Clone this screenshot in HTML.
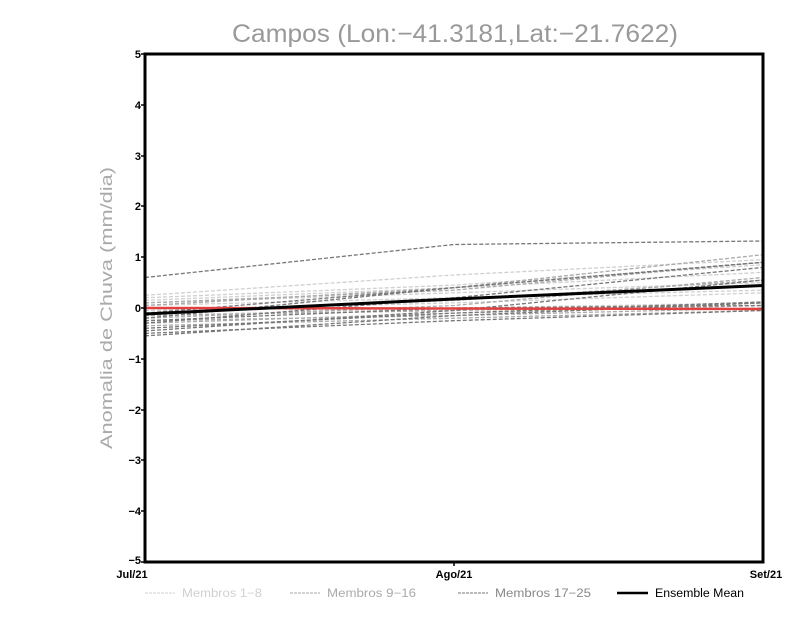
<!DOCTYPE html>
<html><head><meta charset="utf-8"><style>
html,body{margin:0;padding:0;background:#fff;}
svg{display:block;}
</style></head><body>
<svg width="800" height="618" xmlns="http://www.w3.org/2000/svg" font-family="Liberation Sans, sans-serif">
<rect width="800" height="618" fill="#fff"/>
<text x="232" y="42" font-size="25" fill="#999" textLength="446" lengthAdjust="spacingAndGlyphs">Campos (Lon:−41.3181,Lat:−21.7622)</text>
<text transform="translate(112,308) rotate(-90)" text-anchor="middle" font-size="17" fill="#aaa" textLength="282" lengthAdjust="spacingAndGlyphs">Anomalia de Chuva (mm/dia)</text>
<g id="lines" fill="none" stroke-dasharray="4,2" stroke-width="1.3">
<g stroke="#d0d0d0">
<polyline points="145,295.3 454,275 763,259.7"/>
<polyline points="145,300.4 454,287.7 763,272.4"/>
<polyline points="145,302.9 454,292.8 763,282.6"/>
<polyline points="145,305.5 454,297.8 763,290.2"/>
<polyline points="145,310.5 454,302.9 763,292.8"/>
<polyline points="145,315.6 454,308 763,302.9"/>
<polyline points="145,297.8 454,285.1 763,264.8"/>
<polyline points="145,308 454,310.5 763,305.5"/>
</g>
<g stroke="#aaaaaa">
<polyline points="145,318.2 454,305.5 763,277.5"/>
<polyline points="145,323.2 454,313.1 763,305.5"/>
<polyline points="145,302.9 454,290.2 763,262.3"/>
<polyline points="145,320.7 454,315.6 763,308"/>
<polyline points="145,313.1 454,300.4 763,280.1"/>
<polyline points="145,325.8 454,318.2 763,310.5"/>
<polyline points="145,305.5 454,287.7 763,254.7"/>
<polyline points="145,315.6 454,310.5 763,302.9"/>
</g>
<g stroke="#777777">
<polyline points="145,277.5 454,244.5 763,241"/>
<polyline points="145,333.4 454,320.7 763,310.5"/>
<polyline points="145,335.9 454,315.6 763,302.9"/>
<polyline points="145,323.2 454,297.8 763,267.4"/>
<polyline points="145,318.2 454,287.7 763,262.3"/>
<polyline points="145,328.3 454,313.1 763,301.9"/>
<polyline points="145,313.1 454,287.7 763,262.3"/>
<polyline points="145,330.9 454,310.5 763,280.1"/>
<polyline points="145,320.7 454,308 763,305.5"/>
</g>
</g>
<line x1="145" y1="308" x2="763" y2="309" stroke="#e04040" stroke-width="2.5"/>
<polyline points="145,314 454,299 763,285.5" fill="none" stroke="#000" stroke-width="3"/>
<rect x="145" y="54" width="618" height="508" fill="none" stroke="#000" stroke-width="3"/>
<g stroke="#000" stroke-width="1.5">
<line x1="141" y1="54" x2="145" y2="54"/><line x1="141" y1="105" x2="145" y2="105"/><line x1="141" y1="156" x2="145" y2="156"/><line x1="141" y1="206" x2="145" y2="206"/><line x1="141" y1="257" x2="145" y2="257"/><line x1="141" y1="308" x2="145" y2="308"/><line x1="141" y1="359" x2="145" y2="359"/><line x1="141" y1="410" x2="145" y2="410"/><line x1="141" y1="460" x2="145" y2="460"/><line x1="141" y1="511" x2="145" y2="511"/><line x1="141" y1="562" x2="145" y2="562"/>
<line x1="454" y1="562" x2="454" y2="566"/>
</g>
<g font-size="11" font-weight="bold" text-anchor="end" fill="#000">
<text x="141" y="58">5</text><text x="141" y="109">4</text><text x="141" y="160">3</text><text x="141" y="210">2</text><text x="141" y="261">1</text><text x="141" y="312">0</text><text x="141" y="363">−1</text><text x="141" y="414">−2</text><text x="141" y="464">−3</text><text x="141" y="515">−4</text><text x="141" y="564">−5</text>
</g>
<g font-size="11" font-weight="bold" text-anchor="middle" fill="#000">
<text x="132" y="578">Jul/21</text><text x="454" y="578">Ago/21</text><text x="766" y="578">Set/21</text>
</g>
<g font-size="11.5">
<line x1="145" y1="593" x2="175" y2="593" stroke="#d0d0d0" stroke-dasharray="3,1"/>
<text x="182" y="597" fill="#d0d0d0" textLength="80" lengthAdjust="spacingAndGlyphs">Membros 1−8</text>
<line x1="290" y1="593" x2="320" y2="593" stroke="#aaa" stroke-dasharray="3,1"/>
<text x="327" y="597" fill="#aaa" textLength="89" lengthAdjust="spacingAndGlyphs">Membros 9−16</text>
<line x1="458" y1="593" x2="488" y2="593" stroke="#777" stroke-dasharray="3,1"/>
<text x="495" y="597" fill="#888" textLength="96" lengthAdjust="spacingAndGlyphs">Membros 17−25</text>
<line x1="617" y1="593" x2="648" y2="593" stroke="#000" stroke-width="2.5"/>
<text x="655" y="597" fill="#000" textLength="89" lengthAdjust="spacingAndGlyphs">Ensemble Mean</text>
</g>
</svg>
</body></html>
